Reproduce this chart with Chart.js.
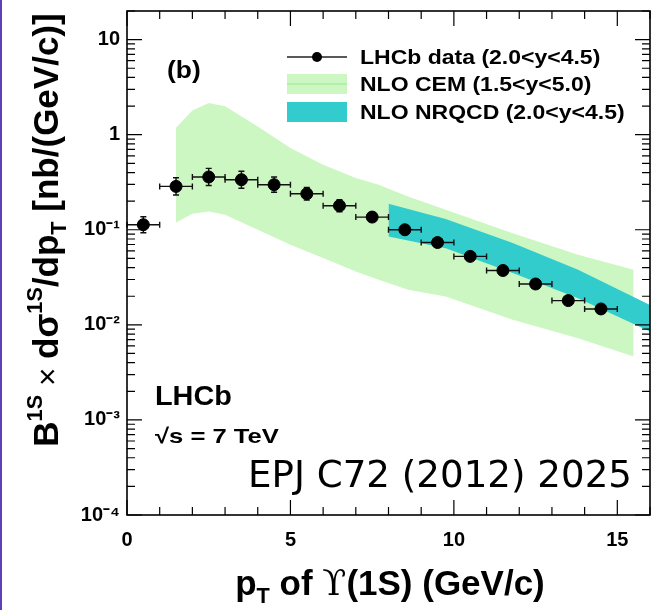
<!DOCTYPE html>
<html><head><meta charset="utf-8">
<script src="https://cdn.jsdelivr.net/npm/chart.js@4.4.1/dist/chart.umd.min.js"></script>
<style>
html,body{margin:0;padding:0;background:#fff;}
#wrap{position:relative;width:657px;height:610px;overflow:hidden;}
#edge{position:absolute;left:0;top:0;width:2px;height:610px;background:#5b41b5;}
canvas{display:block;}
</style></head><body>
<div id="wrap"><canvas id="c" width="657" height="610"></canvas><div id="edge"></div></div>
<script>
// ---- data ----
const ptX       = [0.5, 1.5, 2.5, 3.5, 4.5, 5.5, 6.5, 7.5, 8.5, 9.5, 10.5, 11.5, 12.5, 13.5, 14.5];
const ptY       = [0.113, 0.286, 0.359, 0.336, 0.298, 0.239, 0.179, 0.136, 0.100, 0.0734, 0.0525, 0.0373, 0.0269, 0.0180, 0.0147];
const ptXErr    = [0.5, 0.5, 0.5, 0.5, 0.5, 0.5, 0.5, 0.5, 0.5, 0.5, 0.5, 0.5, 0.5, 0.5, 0.5];
const ptYErrUp  = [0.024, 0.066, 0.083, 0.077, 0.061, 0.039, 0.028, 0.016, 0.0096, 0.0070, 0.0050, 0.0036, 0.0026, 0.0018, 0.0014];
const ptYErrDn  = [0.020, 0.054, 0.067, 0.063, 0.050, 0.034, 0.024, 0.014, 0.0088, 0.0064, 0.0046, 0.0033, 0.0024, 0.0016, 0.0013];

const cemX      = [1.5, 2.0, 2.5, 3.0, 4.0, 5.0, 6.0, 7.0, 7.7, 8.6, 9.75, 11.8, 13.8, 15.5];
const cemUp     = [1.18, 1.80, 2.16, 1.99, 1.22, 0.724, 0.483, 0.350, 0.298, 0.224, 0.162, 0.092, 0.0546, 0.0379];
const cemLow    = [0.119, 0.147, 0.156, 0.144, 0.100, 0.0695, 0.0504, 0.0364, 0.0298, 0.0234, 0.0199, 0.0113, 0.00724, 0.00465];

const nrqcdX    = [8.0, 9.75, 11.8, 13.8, 16.0];
const nrqcdUp   = [0.188, 0.130, 0.0724, 0.038, 0.0162];
const nrqcdLow  = [0.085, 0.064, 0.035, 0.019, 0.0085];

const xTickValues = [0,1,2,3,4,5,6,7,8,9,10,11,12,13,14,15,16];
const xMajorTicks = [0, 5, 10, 15];
const xTickLabels = ['0', '5', '10', '15'];
const yMajorTicks = [1e-4, 1e-3, 1e-2, 1e-1, 1, 10];
const yTickLabels = ['10\u207B\u2074', '10\u207B\u00B3', '10\u207B\u00B2', '10\u207B\u00B9', '1', '10'];
const yMinorMult  = [2,3,4,5,6,7,8,9];

const legendLabels = ['LHCb data (2.0<y<4.5)', 'NLO CEM (1.5<y<5.0)', 'NLO NRQCD (2.0<y<4.5)'];

const GREEN = 'rgb(204,247,194)';
const TEAL  = 'rgb(51,204,204)';
const FONT  = '"Liberation Sans", Arial, Helvetica, sans-serif';

function pts(xs, ys){ return xs.map((x,i)=>({x:x, y:ys[i]})); }

function yTicksAll(){
  const out = [];
  yMajorTicks.forEach(v => {
    out.push({value:v});
    yMinorMult.forEach(m => { const t = m*v; if (t <= 20.0001) out.push({value:t}); });
  });
  return out.filter(t => t.value <= 20.0001);
}

function txt(ctx, s, x, y, font, sx, align){
  ctx.save();
  ctx.font = font;
  ctx.textAlign = align || 'left';
  ctx.textBaseline = 'alphabetic';
  ctx.translate(x, y);
  ctx.scale(sx || 1, 1);
  ctx.fillText(s, 0, 0);
  ctx.restore();
}

function partFont(p, size){
  const sz = p.f === 'n' ? size * (p.k || 1) : size*0.62;
  return (p.w || 'bold') + ' ' + sz + 'px ' + (p.fam || FONT);
}
function richWidth(ctx, parts, size){
  let w = 0;
  parts.forEach(p => { ctx.font = partFont(p, size); w += ctx.measureText(p.t).width; });
  return w;
}
function richDraw(ctx, parts, size){
  let x = 0;
  parts.forEach(p => {
    ctx.font = partFont(p, size);
    let dy = 0;
    if (p.f === 'sup') dy = -size*0.45;
    if (p.f === 'sub') dy = size*0.22;
    ctx.fillText(p.t, x, dy);
    x += ctx.measureText(p.t).width;
  });
}

const errorBars = {
  id: 'errorBars',
  beforeDatasetDraw(chart, args){
    if (args.index !== 0) return;
    const ctx = chart.ctx, xs = chart.scales.x, ys = chart.scales.y;
    ctx.save();
    ctx.strokeStyle = '#111';
    ctx.lineWidth = 1.4;
    ptX.forEach((x,i) => {
      const px = xs.getPixelForValue(x), py = ys.getPixelForValue(ptY[i]);
      const x1 = xs.getPixelForValue(x - ptXErr[i]), x2 = xs.getPixelForValue(x + ptXErr[i]);
      const y1 = ys.getPixelForValue(ptY[i] + ptYErrUp[i]), y2 = ys.getPixelForValue(ptY[i] - ptYErrDn[i]);
      ctx.beginPath();
      ctx.moveTo(x1, py); ctx.lineTo(x2, py);
      ctx.moveTo(x1, py-3); ctx.lineTo(x1, py+3);
      ctx.moveTo(x2, py-3); ctx.lineTo(x2, py+3);
      ctx.moveTo(px, y1); ctx.lineTo(px, y2);
      ctx.moveTo(px-3, y1); ctx.lineTo(px+3, y1);
      ctx.moveTo(px-3, y2); ctx.lineTo(px+3, y2);
      ctx.stroke();
    });
    ctx.restore();
  }
};

const decor = {
  id: 'decor',
  afterDraw(chart){
    const ctx = chart.ctx, ca = chart.chartArea, xs = chart.scales.x, ys = chart.scales.y;
    ctx.save();
    // frame
    ctx.strokeStyle = '#000';
    ctx.lineWidth = 1.6;
    ctx.strokeRect(ca.left, ca.top, ca.right - ca.left, ca.bottom - ca.top);
    // inward ticks
    ctx.lineWidth = 1.2;
    ctx.beginPath();
    xs.ticks.forEach(t => {
      const px = xs.getPixelForValue(t.value);
      const L = xMajorTicks.indexOf(t.value) >= 0 ? 15 : 8;
      ctx.moveTo(px, ca.bottom); ctx.lineTo(px, ca.bottom - L);
      ctx.moveTo(px, ca.top); ctx.lineTo(px, ca.top + L);
    });
    ys.ticks.forEach(t => {
      const py = ys.getPixelForValue(t.value);
      const L = yMajorTicks.indexOf(t.value) >= 0 ? 15 : 8;
      ctx.moveTo(ca.left, py); ctx.lineTo(ca.left + L, py);
      ctx.moveTo(ca.right, py); ctx.lineTo(ca.right - L, py);
    });
    ctx.stroke();

    ctx.fillStyle = '#000';
    // legend
    const lx0 = 287, lx1 = 347, rows = [57, 84, 112];
    ctx.strokeStyle = '#222'; ctx.lineWidth = 1.3;
    ctx.beginPath(); ctx.moveTo(lx0, rows[0]); ctx.lineTo(lx1, rows[0]); ctx.stroke();
    ctx.beginPath(); ctx.arc((lx0+lx1)/2, rows[0], 5, 0, Math.PI*2); ctx.fill();
    ctx.fillStyle = GREEN; ctx.fillRect(lx0, rows[1]-10, lx1-lx0, 20);
    ctx.strokeStyle = 'rgb(150,230,140)'; ctx.lineWidth = 1;
    ctx.beginPath(); ctx.moveTo(lx0, rows[1]); ctx.lineTo(lx1, rows[1]); ctx.stroke();
    ctx.fillStyle = TEAL; ctx.fillRect(lx0, rows[2]-10, lx1-lx0, 20);
    ctx.fillStyle = '#000';
    legendLabels.forEach((s,i) => txt(ctx, s, 360, rows[i] + 7, 'bold 20px ' + FONT, 1.15));

    // annotations
    txt(ctx, '(b)', 167, 78, 'bold 24px ' + FONT, 1.1);
    txt(ctx, 'LHCb', 155, 405, 'bold 28px ' + FONT, 1.03);
    txt(ctx, '\u221As = 7 TeV', 155, 443, 'bold 21px ' + FONT, 1.22);
    ctx.font = '38px "DejaVu Sans", sans-serif';
    const w = ctx.measureText('EPJ C72 (2012) 2025').width;
    txt(ctx, 'EPJ C72 (2012) 2025', 248, 487, '38px "DejaVu Sans", sans-serif', 384 / w);

    // x title
    const xParts = [{t:'p',f:'n'},{t:'T',f:'sub'},{t:' of ',f:'n'},{t:'\u03D2',f:'n',w:'normal',fam:'"DejaVu Serif", serif'},{t:'(1S) (GeV/c)',f:'n'}];
    const xw = richWidth(ctx, xParts, 35);
    ctx.save(); ctx.translate(390 - xw/2, 595); richDraw(ctx, xParts, 35); ctx.restore();

    // y title
    const yParts = [{t:'B',f:'n'},{t:'1S',f:'sup'},{t:' \u00D7 ',f:'n',w:'normal',k:0.9},{t:'d\u03C3',f:'n'},{t:'1S',f:'sup'},{t:'/dp',f:'n'},{t:'T',f:'sub'},{t:' [nb/(GeV/c)]',f:'n'}];
    const yw = richWidth(ctx, yParts, 35);
    ctx.save(); ctx.translate(58, 230 + yw/2); ctx.rotate(-Math.PI/2); richDraw(ctx, yParts, 35); ctx.restore();
    ctx.restore();
  }
};

new Chart(document.getElementById('c').getContext('2d'), {
  type: 'scatter',
  data: { datasets: [
    { label: legendLabels[0], data: pts(ptX, ptY), backgroundColor: '#000', borderColor: '#000',
      pointRadius: 6, pointHoverRadius: 6, showLine: false },
    { label: legendLabels[2], data: pts(nrqcdX, nrqcdUp), showLine: true, borderWidth: 0, borderColor: 'rgba(0,0,0,0)',
      pointRadius: 0, fill: '+1', backgroundColor: TEAL, tension: 0 },
    { label: 'nrqcd-low', data: pts(nrqcdX, nrqcdLow), showLine: true, borderWidth: 0, borderColor: 'rgba(0,0,0,0)',
      pointRadius: 0, fill: false, tension: 0 },
    { label: legendLabels[1], data: pts(cemX, cemUp), showLine: true, borderWidth: 0, borderColor: 'rgba(0,0,0,0)',
      pointRadius: 0, fill: '+1', backgroundColor: GREEN, tension: 0 },
    { label: 'cem-low', data: pts(cemX, cemLow), showLine: true, borderWidth: 0, borderColor: 'rgba(0,0,0,0)',
      pointRadius: 0, fill: false, tension: 0 }
  ]},
  options: {
    responsive: false, animation: false,
    layout: { padding: { top: 11, right: 5, left: 0, bottom: 0 } },
    plugins: { legend: { display: false }, tooltip: { enabled: false } },
    scales: {
      x: { type: 'linear', min: 0, max: 16,
        grid: { display: false, drawTicks: false }, border: { display: false },
        afterBuildTicks: s => { s.ticks = xTickValues.map(v => ({ value: v })); },
        afterFit: s => { s.height = 95; s.paddingLeft = 0; s.paddingRight = 0; },
        ticks: { autoSkip: false, maxRotation: 0, padding: 13, color: '#000',
          font: { family: FONT, weight: 'bold', size: 20 },
          callback: v => { const i = xMajorTicks.indexOf(v); return i >= 0 ? xTickLabels[i] : ''; } } },
      y: { type: 'logarithmic', min: 1e-4, max: 20,
        grid: { display: false, drawTicks: false }, border: { display: false },
        afterBuildTicks: s => { s.ticks = yTicksAll(); },
        afterFit: s => { s.width = 127; s.paddingTop = 0; s.paddingBottom = 0; },
        ticks: { autoSkip: false, padding: 7, color: '#000',
          font: { family: FONT, weight: 'bold', size: 20 },
          callback: v => { const i = yMajorTicks.indexOf(v); return i >= 0 ? yTickLabels[i] : ''; } } }
    }
  },
  plugins: [errorBars, decor]
});
</script>
</body></html>
